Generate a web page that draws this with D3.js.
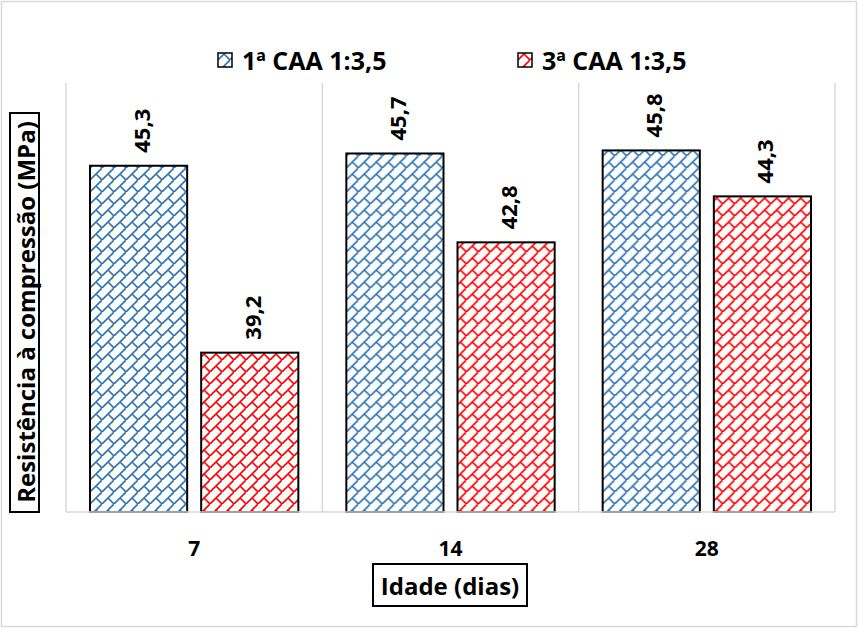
<!DOCTYPE html>
<html>
<head>
<meta charset="utf-8">
<script src="https://cdn.jsdelivr.net/npm/d3@7"></script>
<style>
  body { margin: 0; background: #fff; }
  svg text { font-family: "Open Sans", "Noto Sans", sans-serif; font-weight: bold; fill: #000; }
</style>
</head>
<body>
<div id="chart"></div>
<script>
// data
const ages = ["7", "14", "28"];
const seriesNames = ["1ª CAA 1:3,5", "3ª CAA 1:3,5"];
const serie1 = [45.3, 45.7, 45.8];
const serie3 = [39.2, 42.8, 44.3];
const seriesColors = ["#2e75b6", "#ff0000"];
const yDomain = [34, 48];

const width = 860, height = 629;
const plot = {left: 66, right: 835, top: 83, bottom: 512};

let svg = d3.select("#chart").append("svg")
    .attr("width", width).attr("height", height);

// diagonal brick patterns, one per series
let defs = svg.append("defs");
seriesColors.forEach((c, i) => {
    let pat = defs.append("pattern")
        .attr("id", "brick" + i)
        .attr("patternUnits", "userSpaceOnUse")
        .attr("width", 12).attr("height", 12);
    pat.append("rect").attr("width", 12).attr("height", 12).attr("fill", "#fff");
    pat.append("path")
        .attr("d", "M-1,13L13,-1M6,6L13,13M-1,-1L0,0")
        .attr("stroke", c).attr("stroke-width", 1.6)
        .attr("fill", "none");
});

// outer chart border
svg.append("rect")
    .attr("x", 1.5).attr("y", 1.5)
    .attr("width", 855).attr("height", 625)
    .attr("fill", "none").attr("stroke", "#d9d9d9").attr("stroke-width", 1.5);

let x0 = d3.scaleBand().domain(ages).range([plot.left, plot.right]);
let x1 = d3.scaleBand().domain([0, 1])
    .range([24, x0.bandwidth() - 24]).paddingInner(0.126);
let y = d3.scaleLinear().domain(yDomain).range([plot.bottom, plot.top]);

// category separators and plot edges
let gridX = ages.map(a => x0(a)).concat([plot.right]);
svg.append("g").selectAll("line")
    .data(gridX)
    .enter().append("line")
    .attr("x1", d => d).attr("x2", d => d)
    .attr("y1", plot.top).attr("y2", plot.bottom)
    .attr("stroke", "#d9d9d9").attr("stroke-width", 1.5);

let rows = ages.map((a, i) => ({age: a, values: [serie1[i], serie3[i]]}));

let groups = svg.append("g").selectAll("g")
    .data(rows)
    .enter().append("g")
    .attr("transform", d => `translate(${x0(d.age)},0)`);

let bars = groups.selectAll("g.bar")
    .data(d => d.values.map((v, s) => ({s: s, v: v})))
    .enter().append("g").attr("class", "bar");

bars.append("rect")
    .attr("x", d => x1(d.s))
    .attr("y", d => y(d.v))
    .attr("width", x1.bandwidth())
    .attr("height", d => plot.bottom - y(d.v))
    .attr("fill", d => `url(#brick${d.s})`)
    .attr("stroke", "#000").attr("stroke-width", 2);

bars.append("text")
    .attr("transform", d => `translate(${x1(d.s) + x1.bandwidth() / 2 + 2},${y(d.v) - 13}) rotate(-90)`)
    .attr("dominant-baseline", "central")
    .style("font-size", "22px")
    .text(d => d.v.toFixed(1).replace(".", ","));

// baseline
svg.append("line")
    .attr("x1", plot.left).attr("x2", plot.right)
    .attr("y1", plot.bottom).attr("y2", plot.bottom)
    .attr("stroke", "#d9d9d9").attr("stroke-width", 1.5);

// category labels
svg.append("g").selectAll("text")
    .data(ages)
    .enter().append("text")
    .attr("x", d => x0(d) + x0.bandwidth() / 2)
    .attr("y", 548)
    .attr("text-anchor", "middle")
    .attr("dominant-baseline", "central")
    .style("font-size", "21px")
    .text(d => d);

// x axis title in a box
svg.append("rect")
    .attr("x", 373).attr("y", 564).attr("width", 154).attr("height", 42)
    .attr("fill", "#fff").attr("stroke", "#000").attr("stroke-width", 2);
svg.append("text")
    .attr("x", 450).attr("y", 585)
    .attr("text-anchor", "middle").attr("dominant-baseline", "central")
    .style("font-size", "24px")
    .text("Idade (dias)");

// y axis title in a box
svg.append("rect")
    .attr("x", 10).attr("y", 113).attr("width", 29).attr("height", 399)
    .attr("fill", "#fff").attr("stroke", "#000").attr("stroke-width", 2);
svg.append("text")
    .attr("transform", "translate(25,312) rotate(-90)")
    .attr("text-anchor", "middle").attr("dominant-baseline", "central")
    .style("font-size", "24px")
    .text("Resistência à compressão (MPa)");

// legend
let legendX = [218, 518];
let legend = svg.append("g").selectAll("g")
    .data(seriesNames)
    .enter().append("g")
    .attr("transform", (d, i) => `translate(${legendX[i]},60)`);
legend.append("rect")
    .attr("x", 0).attr("y", -7).attr("width", 14).attr("height", 14)
    .attr("fill", (d, i) => `url(#brick${i})`)
    .attr("stroke", "#000").attr("stroke-width", 1.5);
legend.append("text")
    .attr("x", 24).attr("y", 0)
    .attr("dominant-baseline", "central")
    .style("font-size", "25px")
    .text(d => d);
</script>
</body>
</html>
